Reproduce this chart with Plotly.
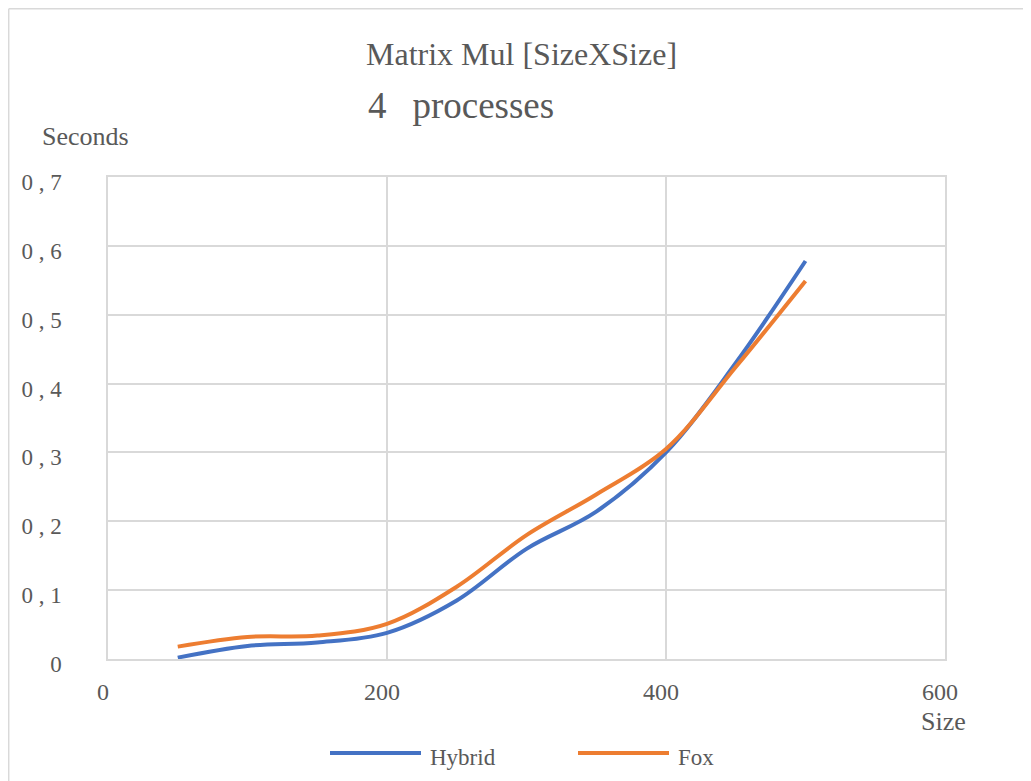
import plotly.graph_objects as go

sizes = [50, 100, 150, 200, 250, 300, 350, 400, 450, 500]
hybrid = [0.002, 0.019, 0.024, 0.038, 0.085, 0.160, 0.214, 0.300, 0.430, 0.578]
fox = [0.018, 0.032, 0.034, 0.051, 0.105, 0.180, 0.239, 0.305, 0.424, 0.549]

y_tickvals = [0, 0.1, 0.2, 0.3, 0.4, 0.5, 0.6, 0.7]
y_ticktext = ["0", "0 , 1", "0 , 2", "0 , 3", "0 , 4", "0 , 5", "0 , 6", "0 , 7"]
x_tickvals = [0, 200, 400, 600]
x_ticktext = ["0", "200", "400", "600"]
series_names = ["Hybrid", "Fox"]
series_colors = ["#4472C4", "#ED7D31"]

FONT = "Liberation Serif"
TXT = "#595959"
GRID = "#d9d9d9"

fig = go.Figure()
for name, ys, col in zip(series_names, [hybrid, fox], series_colors):
    fig.add_trace(go.Scatter(x=sizes, y=ys, name=name, mode="lines", showlegend=False,
                             line=dict(color=col, width=4, shape="spline")))

# page has an 8px body margin; coordinates below are screen pixels
OFF = 8
W, H = 1031 - OFF, 781 - OFF
L, R, T, B = 108, 945, 177, 659
def px(x):
    return (x - L) / (R - L)
def py(y):
    return (B - y) / (B - T)

annotations = [
    dict(text="Matrix Mul [SizeXSize]", x=px(364), y=py(54), xref="paper", yref="paper",
         xanchor="left", yanchor="middle", showarrow=False,
         font=dict(family=FONT, size=32, color=TXT)),
    dict(text="4\u00a0\u00a0\u2009processes", x=px(366), y=py(105), xref="paper", yref="paper",
         xanchor="left", yanchor="middle", showarrow=False,
         font=dict(family=FONT, size=37, color=TXT)),
    dict(text="Seconds", x=px(85), y=py(136), xref="paper", yref="paper",
         xanchor="center", yanchor="middle", showarrow=False,
         font=dict(family=FONT, size=26, color=TXT)),
    dict(text="Size", x=px(943), y=py(721), xref="paper", yref="paper",
         xanchor="center", yanchor="middle", showarrow=False,
         font=dict(family=FONT, size=26, color=TXT)),
]
shapes = [
    dict(type="line", xref="paper", yref="paper", x0=px(8.7), x1=px(1031), y0=py(8.7), y1=py(8.7),
         line=dict(color=GRID, width=1.5)),
    dict(type="line", xref="paper", yref="paper", x0=px(8.7), x1=px(8.7), y0=py(8.7), y1=py(781),
         line=dict(color=GRID, width=1.5)),
]
# legend (drawn manually to match long legend keys)
leg_x = [330, 578]
for name, col, lx in zip(series_names, series_colors, leg_x):
    shapes.append(dict(type="line", xref="paper", yref="paper", x0=px(lx), x1=px(lx + 91),
                       y0=py(753), y1=py(753), line=dict(color=col, width=4)))
    annotations.append(dict(text=name, x=px(lx + 98), y=py(757), xref="paper", yref="paper",
                            xanchor="left", yanchor="middle", showarrow=False,
                            font=dict(family=FONT, size=23, color=TXT)))

fig.update_layout(
    width=W, height=H,
    margin=dict(l=L - OFF, r=1031 - R, t=T - OFF, b=781 - B),
    paper_bgcolor="white", plot_bgcolor="white",
    font=dict(family=FONT, color=TXT),
    showlegend=False,
    xaxis=dict(range=[0, 600], tickvals=x_tickvals, ticktext=x_ticktext,
               showgrid=True, gridcolor=GRID, gridwidth=1.5,
               showline=True, linecolor=GRID, linewidth=1.5, mirror=True,
               zeroline=False, ticks="", tickfont=dict(family=FONT, size=24, color=TXT),
               ticklabelstandoff=10, ticklabelshift=-5),
    yaxis=dict(range=[0, 0.7], tickvals=y_tickvals, ticktext=y_ticktext,
               showgrid=True, gridcolor=GRID, gridwidth=1.5,
               showline=True, linecolor=GRID, linewidth=1.5, mirror=True,
               zeroline=False, ticks="", tickfont=dict(family=FONT, size=23, color=TXT),
               ticklabelstandoff=40, ticklabelshift=5),
    annotations=annotations,
    shapes=shapes,
)

fig.write_html("out.html")
